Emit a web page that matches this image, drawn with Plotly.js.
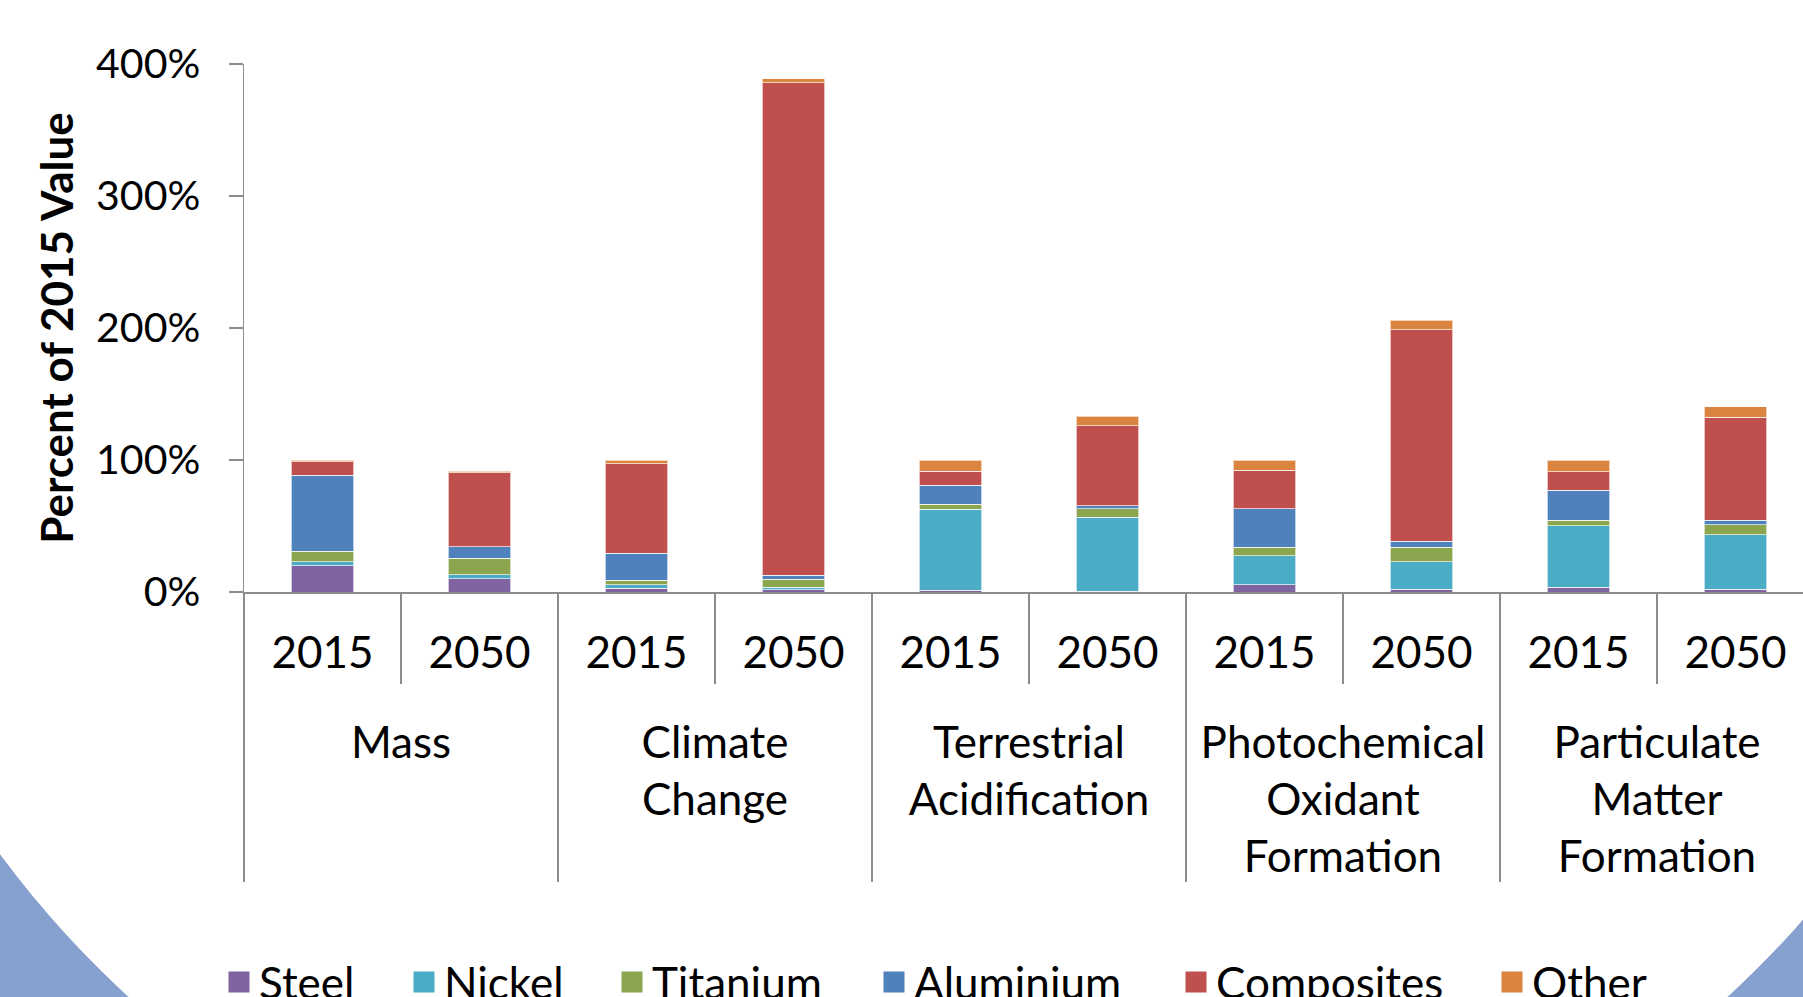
<!DOCTYPE html>
<html><head><meta charset="utf-8">
<script src="https://cdn.plot.ly/plotly-3.0.1.min.js"></script>
<style>html,body{margin:0;padding:0;background:#fff;} #chart{width:1803px;height:997px;}</style>
</head><body><div id="chart"></div>
<script>
// ---- data ----
const categories = ["Mass", "Climate<br>Change", "Terrestrial<br>Acidification",
  "Photochemical<br>Oxidant<br>Formation", "Particulate<br>Matter<br>Formation"];
const years = ["2015", "2050"];
const materials = ["Steel", "Nickel", "Titanium", "Aluminium", "Composites", "Other"];
const materialColors = ["#8064a2", "#4bacc6", "#8ba64f", "#4f81bd", "#c0504d", "#da8440"];
// order: Mass 2015, Mass 2050, Climate 2015, Climate 2050, Terr 2015, Terr 2050,
//        Photo 2015, Photo 2050, Partic 2015, Partic 2050  (percent of 2015 value)
const steel      = [19.8,  9.9,  2.7,   1.8,  1.5,  0.5,  5.4,   2.1,  3.6,  2.1];
const nickel     = [ 3.0,  3.0,  2.7,   1.8, 61.1, 56.1, 22.1,  21.0, 46.7, 41.3];
const titanium   = [ 8.0, 12.8,  3.6,   6.0,  3.9,  6.6,  6.3,  10.7,  3.9,  7.5];
const aluminium  = [57.8,  8.7, 20.3,   3.0, 14.3,  2.1, 29.4,   4.8, 23.0,  3.6];
const composites = [10.2, 56.0, 68.0, 373.3, 10.8, 60.7, 29.0, 160.2, 13.8, 77.8];
const other      = [ 1.2,  1.2,  2.7,   3.0,  8.4,  7.2,  7.8,   7.2,  9.0,  8.1];
const yTickVals = [0, 100, 200, 300, 400];
const yTickText = ["0%", "100%", "200%", "300%", "400%"];

const seriesValues = [steel, nickel, titanium, aluminium, composites, other];

// multicategory x coordinates (outer label gets a leading blank line for spacing)
const xOuter = [], xInner = [];
categories.forEach(c => years.forEach(y => { xOuter.push('<br>' + c); xInner.push(y); }));

const barTraces = materials.map((m, i) => ({
  type: 'bar', name: m, x: [xOuter, xInner], y: seriesValues[i],
  marker: { color: materialColors[i], line: { color: 'rgba(255,255,255,0.65)', width: 1 } },
  showlegend: false, hoverinfo: 'none'
}));

// legend-only entries (bigger square swatches), one legend per entry
const legendIds = materials.map((m, i) => i === 0 ? 'legend' : 'legend' + (i + 1));
const legendTraces = materials.map((m, i) => ({
  type: 'scatter', mode: 'markers', name: m, x: [[xOuter[0]], [xInner[0]]], y: [null],
  marker: { symbol: 'square', size: 16, color: materialColors[i],
            line: { color: materialColors[i], width: 5 } },
  legend: legendIds[i], showlegend: true, hoverinfo: 'none'
}));

// ---- layout geometry ----
const FIG_W = 1803, FIG_H = 997;
const M = { l: 244, r: 0, t: 64, b: 405 };
const PW = FIG_W - M.l - M.r, PH = FIG_H - M.t - M.b;
const px2x = x => (x - M.l) / PW;
const px2y = y => (M.t + PH - y) / PH;
const slotPx = 157.0;
const grey = '#8c8c8c';
const FONT = 'Lato, "Open Sans", sans-serif';
const legendLeftPx = [219, 404, 612, 874, 1176, 1492];

// white slide ellipse over blue background
const ell = { cx: 928, cy: 300, a: 1115, b: 1000 };

const layout = {
  width: FIG_W, height: FIG_H,
  margin: Object.assign({ autoexpand: false, pad: 0 }, M),
  paper_bgcolor: '#86a1cd',
  plot_bgcolor: 'rgba(0,0,0,0)',
  font: { family: FONT, size: 44, color: '#000' },
  barmode: 'stack',
  bargap: 0.6,
  showlegend: true,
  xaxis: {
    type: 'multicategory',
    range: [-0.5, -0.5 + PW / slotPx],
    showline: true, linecolor: grey, linewidth: 1.5,
    ticks: 'outside', tickson: 'boundaries', ticklen: 90, tickwidth: 1.5, tickcolor: grey,
    ticklabelstandoff: 22,
    showdividers: true, dividercolor: grey, dividerwidth: 1.5,
    tickfont: { family: FONT, size: 44, color: '#000' },
    showgrid: false, zeroline: false, fixedrange: true
  },
  yaxis: {
    range: [0, 400], tickmode: 'array', tickvals: yTickVals, ticktext: yTickText,
    showline: true, linecolor: grey, linewidth: 1.5,
    ticks: 'outside', ticklen: 14, tickwidth: 1.5, tickcolor: grey,
    ticklabelstandoff: 20,
    tickfont: { family: FONT, size: 41, color: '#000' },
    showgrid: false, zeroline: false, fixedrange: true,
    title: { text: 'Percent of 2015 Value', standoff: 8,
             font: { family: FONT, size: 44, color: '#000', weight: 'bold' } }
  },
  shapes: [{
    type: 'circle', xref: 'paper', yref: 'paper', layer: 'below',
    x0: px2x(ell.cx - ell.a), x1: px2x(ell.cx + ell.a),
    y0: px2y(ell.cy + ell.b), y1: px2y(ell.cy - ell.b),
    fillcolor: '#ffffff', line: { width: 0 }
  }]
};

legendIds.forEach((id, i) => {
  layout[id] = {
    orientation: 'h', x: px2x(legendLeftPx[i]), xanchor: 'left', y: px2y(947), yanchor: 'top',
    font: { family: FONT, size: 44, color: '#000' }, itemsizing: 'trace',
    bgcolor: 'rgba(0,0,0,0)', borderwidth: 0, itemclick: false, itemdoubleclick: false
  };
});

Plotly.newPlot('chart', barTraces.concat(legendTraces), layout, { staticPlot: true, displayModeBar: false });
</script>
</body></html>
